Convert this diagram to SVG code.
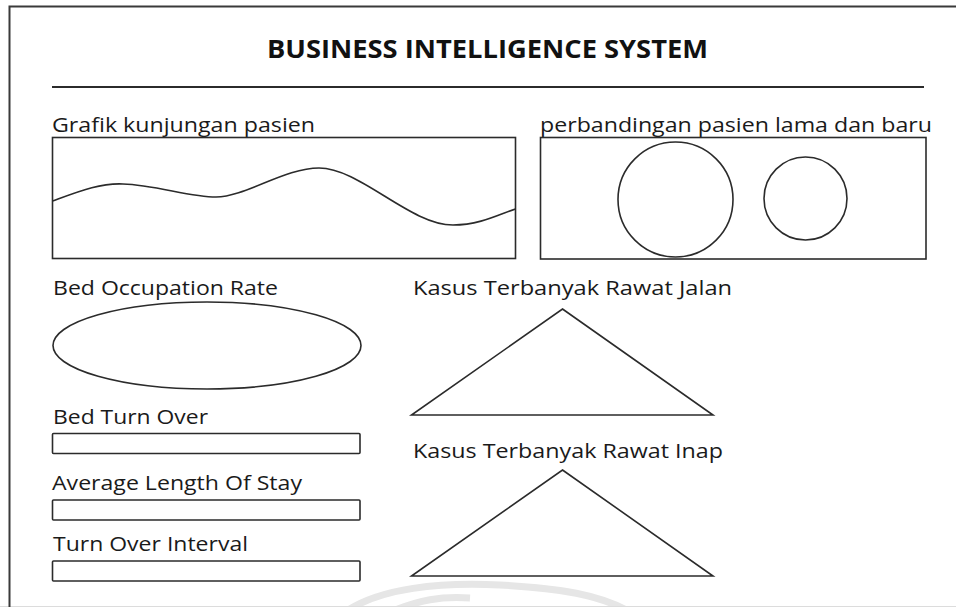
<svg xmlns="http://www.w3.org/2000/svg" width="956" height="607" viewBox="0 0 956 607">
  <style>
    .shape { fill: none; stroke: #2b2b2b; stroke-width: 1.6; }
    .frame { fill: none; stroke: #3a3a3a; stroke-width: 2; }
    .label { font-family: "Open Sans", "Liberation Sans", sans-serif; font-size: 19.5px; fill: #1a1a1a; }
    .title { font-family: "Open Sans", "Liberation Sans", sans-serif; font-size: 25px; font-weight: bold; fill: #111; }
    .mark { fill: none; stroke: #e6e6e6; stroke-width: 7; }
  </style>
  <rect width="956" height="607" fill="#ffffff"/>

  <!-- faint seal in the lower margin -->
  <g id="seal">
    <path class="mark" d="M345,612 C380,588 440,582 500,585 C560,588 600,595 630,612"/>
    <path class="mark" d="M390,612 C420,600 440,596 470,598"/>
    <line x1="0" y1="606.5" x2="956" y2="606.5" stroke="#dcdcdc" stroke-width="1"/>
  </g>

  <!-- page frame -->
  <g id="frame">
    <path class="frame" d="M9.5,607 V6.5 H956"/>
  </g>

  <!-- heading -->
  <g id="header">
    <text class="title" x="267" y="58" textLength="441" lengthAdjust="spacingAndGlyphs">BUSINESS INTELLIGENCE SYSTEM</text>
    <line x1="52" y1="87" x2="924" y2="87" stroke="#2b2b2b" stroke-width="2"/>
  </g>

  <!-- visit chart -->
  <g id="grafik-kunjungan">
    <text class="label" x="52" y="132" textLength="263" lengthAdjust="spacingAndGlyphs">Grafik kunjungan pasien</text>
    <rect class="shape" x="52.5" y="137.5" width="463" height="121"/>
    <path class="shape" d="M52.5,201 C80,191 100,183 123,184 C155,185 190,197 216,197 C245,197 285,168 319,168 C360,168 410,225 453,225 C480,225 500,214 515.5,209"/>
  </g>

  <!-- old vs new patients -->
  <g id="perbandingan-pasien">
    <text class="label" x="540" y="132" textLength="392" lengthAdjust="spacingAndGlyphs">perbandingan pasien lama dan baru</text>
    <rect class="shape" x="540.5" y="137.5" width="385.5" height="121.5"/>
    <circle class="shape" cx="675.5" cy="199.5" r="57.5"/>
    <circle class="shape" cx="805.5" cy="198.5" r="41.5"/>
  </g>

  <!-- BOR -->
  <g id="bed-occupation-rate">
    <text class="label" x="53" y="295" textLength="225" lengthAdjust="spacingAndGlyphs">Bed Occupation Rate</text>
    <ellipse class="shape" cx="207" cy="345.5" rx="154" ry="43.5"/>
  </g>

  <!-- outpatient cases -->
  <g id="rawat-jalan">
    <text class="label" x="413" y="295" textLength="319" lengthAdjust="spacingAndGlyphs">Kasus Terbanyak Rawat Jalan</text>
    <polygon class="shape" points="562.5,309 713,415 411.5,415" stroke-linejoin="miter"/>
  </g>

  <!-- BTO -->
  <g id="bed-turn-over">
    <text class="label" x="53" y="424" textLength="155" lengthAdjust="spacingAndGlyphs">Bed Turn Over</text>
    <rect class="shape" x="52.5" y="433.5" width="307.5" height="20" rx="1"/>
  </g>

  <!-- AvLOS -->
  <g id="average-length-of-stay">
    <text class="label" x="52" y="490" textLength="250" lengthAdjust="spacingAndGlyphs">Average Length  Of Stay</text>
    <rect class="shape" x="52.5" y="500" width="307.5" height="20" rx="1"/>
  </g>

  <!-- TOI -->
  <g id="turn-over-interval">
    <text class="label" x="53" y="551" textLength="195" lengthAdjust="spacingAndGlyphs">Turn Over Interval</text>
    <rect class="shape" x="52.5" y="561" width="307.5" height="20" rx="1"/>
  </g>

  <!-- inpatient cases -->
  <g id="rawat-inap">
    <text class="label" x="413" y="458" textLength="310" lengthAdjust="spacingAndGlyphs">Kasus Terbanyak Rawat Inap</text>
    <polygon class="shape" points="562.5,470 713,576 411.5,576"/>
  </g>

  <g id="connectors"/>
</svg>
